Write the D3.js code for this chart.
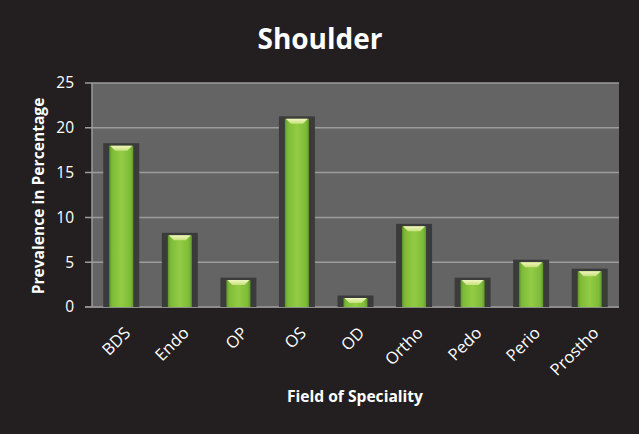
<!DOCTYPE html>
<html>
<head>
<meta charset="utf-8">
<script src="https://cdn.jsdelivr.net/npm/d3@7"></script>
<style>
  html, body { margin: 0; padding: 0; background: #231f20; }
  #vis { width: 639px; height: 434px; }
</style>
</head>
<body>
<div id="vis"></div>
<script>
// dados
const especialidades = ["BDS", "Endo", "OP", "OS", "OD", "Ortho", "Pedo", "Perio", "Prostho"];
const prevalencia = [18, 8, 3, 21, 1, 9, 3, 5, 4];
const ticksY = [0, 5, 10, 15, 20, 25];

const width = 639, height = 434;
const margins = { top: 83, right: 20, bottom: 127, left: 92 };
const fonte = "'Open Sans', sans-serif";

const svg = d3.select("#vis").append("svg")
  .attr("width", width)
  .attr("height", height);

svg.append("rect")
  .attr("width", width).attr("height", height)
  .attr("fill", "#231f20");

// gradientes das barras
const defs = svg.append("defs");
const grad = defs.append("linearGradient").attr("id", "verde")
  .attr("x1", "0").attr("x2", "1").attr("y1", "0").attr("y2", "0");
grad.append("stop").attr("offset", "0%").attr("stop-color", "#5e9a2a");
grad.append("stop").attr("offset", "12%").attr("stop-color", "#7fbb38");
grad.append("stop").attr("offset", "50%").attr("stop-color", "#93cc44");
grad.append("stop").attr("offset", "88%").attr("stop-color", "#7fbb38");
grad.append("stop").attr("offset", "100%").attr("stop-color", "#5e9a2a");

const brilho = defs.append("linearGradient").attr("id", "brilho")
  .attr("x1", "0").attr("x2", "0").attr("y1", "0").attr("y2", "1");
brilho.append("stop").attr("offset", "0%").attr("stop-color", "#f2f7c0");
brilho.append("stop").attr("offset", "100%").attr("stop-color", "#c5e07a");

// escalas
const xScale = d3.scaleBand()
  .domain(especialidades)
  .range([margins.left, width - margins.right])
  .padding(0);

const yScale = d3.scaleLinear()
  .domain([0, 25])
  .range([height - margins.bottom, margins.top]);

// fundo da area
svg.append("rect")
  .attr("x", margins.left)
  .attr("y", margins.top)
  .attr("width", width - margins.right - margins.left)
  .attr("height", height - margins.bottom - margins.top)
  .attr("fill", "#646464");

// grade
svg.append("g")
  .selectAll("line")
  .data(ticksY)
  .join("line")
  .attr("x1", margins.left - 7)
  .attr("x2", width - margins.right)
  .attr("y1", d => yScale(d))
  .attr("y2", d => yScale(d))
  .attr("stroke", d => d === 0 ? "#8c8c8c" : "#9c9c9c")
  .attr("stroke-width", d => d === 0 ? 2 : 1.5);

svg.append("line")
  .attr("x1", margins.left).attr("x2", margins.left)
  .attr("y1", margins.top).attr("y2", yScale(0))
  .attr("stroke", "#9c9c9c")
  .attr("stroke-width", 1.5);

// barras
const step = xScale.bandwidth();
const larguraSombra = 36, larguraBarra = 24;
const dados = especialidades.map((e, i) => ({ nome: e, valor: prevalencia[i] }));

const barras = svg.append("g").selectAll("g")
  .data(dados)
  .join("g")
  .attr("transform", d => `translate(${xScale(d.nome) + step / 2}, 0)`);

barras.append("rect")
  .attr("x", -larguraSombra / 2)
  .attr("y", d => yScale(d.valor) - 2.5)
  .attr("width", larguraSombra)
  .attr("height", d => yScale(0) - yScale(d.valor) + 2.5)
  .attr("fill", "#3b3b3b");

barras.append("rect")
  .attr("x", -larguraBarra / 2)
  .attr("y", d => yScale(d.valor))
  .attr("width", larguraBarra)
  .attr("height", d => yScale(0) - yScale(d.valor))
  .attr("fill", "url(#verde)");

barras.append("path")
  .attr("d", d => {
    const y0 = yScale(d.valor);
    return `M${-larguraBarra / 2 + 1},${y0} L${larguraBarra / 2 - 1},${y0} L${larguraBarra / 2 - 6},${y0 + 5} L${-larguraBarra / 2 + 6},${y0 + 5} Z`;
  })
  .attr("fill", "url(#brilho)");

// rotulos do eixo y
svg.append("g")
  .selectAll("text")
  .data(ticksY)
  .join("text")
  .attr("x", 74)
  .attr("y", d => yScale(d))
  .attr("dy", "0.35em")
  .attr("text-anchor", "end")
  .attr("font-family", fonte)
  .attr("font-size", "15.5px")
  .attr("fill", "#ffffff")
  .text(d => d);

// rotulos do eixo x
svg.append("g")
  .selectAll("text")
  .data(especialidades)
  .join("text")
  .attr("transform", d => `translate(${xScale(d) + step / 2 + 6}, 330) rotate(-45)`)
  .attr("text-anchor", "end")
  .attr("dy", "0.35em")
  .attr("font-family", fonte)
  .attr("font-size", "16.5px")
  .attr("fill", "#ffffff")
  .text(d => d);

// titulo
svg.append("text")
  .attr("x", 320)
  .attr("y", 49)
  .attr("text-anchor", "middle")
  .attr("font-family", fonte)
  .attr("font-weight", "bold")
  .attr("font-size", "28px")
  .attr("fill", "#ffffff")
  .text("Shoulder");

// titulos dos eixos
svg.append("text")
  .attr("x", 355)
  .attr("y", 402)
  .attr("text-anchor", "middle")
  .attr("font-family", fonte)
  .attr("font-weight", "bold")
  .attr("font-size", "15.6px")
  .attr("fill", "#ffffff")
  .text("Field of Speciality");

svg.append("text")
  .attr("transform", "translate(44, 196) rotate(-90)")
  .attr("text-anchor", "middle")
  .attr("font-family", fonte)
  .attr("font-weight", "bold")
  .attr("font-size", "15.6px")
  .attr("fill", "#ffffff")
  .text("Prevalence in Percentage");
</script>
</body>
</html>
